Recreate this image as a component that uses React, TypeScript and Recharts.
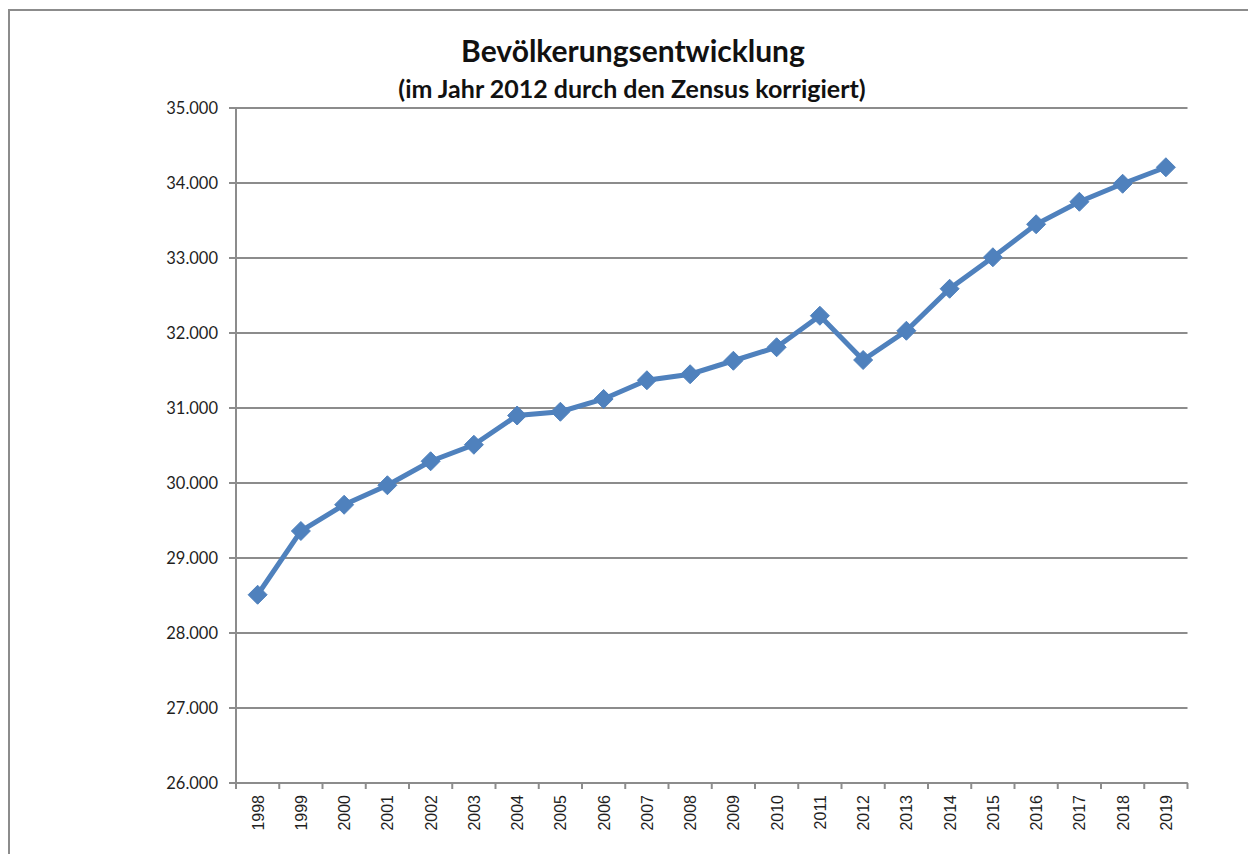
import React from 'react';
import { LineChart, Line, XAxis, YAxis, CartesianGrid } from 'recharts';

const years = [
  1998, 1999, 2000, 2001, 2002, 2003, 2004, 2005, 2006, 2007, 2008,
  2009, 2010, 2011, 2012, 2013, 2014, 2015, 2016, 2017, 2018, 2019,
];

const population = [
  28510, 29360, 29710, 29970, 30290, 30510, 30900, 30950, 31120, 31370, 31450,
  31630, 31810, 32230, 31640, 32030, 32590, 33010, 33450, 33750, 33990, 34210,
];

const yTicks = [26000, 27000, 28000, 29000, 30000, 31000, 32000, 33000, 34000, 35000];

// category boundaries for the tick marks (Excel style)
const xBoundaries = [...years.map((y) => y - 0.5), years[years.length - 1] + 0.5];

const data = years.map((year, i) => ({ year, value: population[i] }));

const W = 1256;
const H = 862;
const PLOT_LEFT = 236;
const PLOT_RIGHT = 1187.5;
const PLOT_TOP = 108;
const PLOT_BOTTOM = 783;
const BAND = (PLOT_RIGHT - PLOT_LEFT) / years.length;

const BLUE = '#4F81BD';
const GRID = '#8c8c8c';

const fmt = (v: number) => String(v).replace(/\B(?=(\d{3})+(?!\d))/g, '.');

const YearTick = (props: any) => {
  const { x, y, payload, index } = props;
  if (index >= years.length) return null;
  const label = Math.round(payload.value + 0.5);
  const tx = x + BAND / 2 + 6;
  const ty = y + 4;
  return (
    <text
      x={tx}
      y={ty}
      transform={`rotate(-90, ${tx}, ${ty})`}
      textAnchor="end"
      fontFamily="'Liberation Sans', Arial, sans-serif"
      fontSize={16}
      fill="#1f1f1f"
    >
      {label}
    </text>
  );
};

const Diamond = (props: any) => {
  const { cx, cy } = props;
  if (cx == null || cy == null) return null;
  const r = 9.5;
  return (
    <polygon
      points={`${cx},${cy - r} ${cx + r},${cy} ${cx},${cy + r} ${cx - r},${cy}`}
      fill={BLUE}
      stroke={BLUE}
      strokeWidth={1}
    />
  );
};

const App: React.FC = () => {
  return (
    <div style={{ position: 'relative', width: 1240, height: 846 }}>
      {/* outer chart frame */}
      <div
        style={{
          position: 'absolute',
          left: 0,
          top: 1,
          width: 1247,
          height: 853,
          boxSizing: 'border-box',
          borderTop: `2px solid ${GRID}`,
          borderLeft: `2px solid ${GRID}`,
          borderRight: `2px solid ${GRID}`,
          background: '#fff',
        }}
      />
      <div style={{ position: 'absolute', left: -8, top: -8, width: W, height: H }}>
        <LineChart
          width={W}
          height={H}
          data={data}
          margin={{ top: PLOT_TOP, right: W - PLOT_RIGHT, left: PLOT_LEFT - 80, bottom: H - PLOT_BOTTOM - 60 }}
        >
          <CartesianGrid vertical={false} stroke={GRID} strokeWidth={2} />
          <XAxis
            dataKey="year"
            type="number"
            domain={[xBoundaries[0], xBoundaries[xBoundaries.length - 1]]}
            ticks={xBoundaries}
            interval={0}
            height={60}
            axisLine={{ stroke: GRID, strokeWidth: 2 }}
            tickLine={{ stroke: GRID, strokeWidth: 2 }}
            tickSize={6}
            tick={<YearTick />}
          />
          <YAxis
            type="number"
            domain={[26000, 35000]}
            ticks={yTicks}
            interval={0}
            width={80}
            axisLine={{ stroke: GRID, strokeWidth: 2 }}
            tickLine={{ stroke: GRID, strokeWidth: 2 }}
            tickSize={7}
            tickMargin={11}
            tickFormatter={fmt}
            tick={{ fontFamily: 'Lato, sans-serif', fontSize: 16.5, fill: '#1f1f1f' }}
          />
          <Line
            type="linear"
            dataKey="value"
            stroke={BLUE}
            strokeWidth={5}
            dot={<Diamond />}
            activeDot={false}
            isAnimationActive={false}
          />
        </LineChart>
      </div>
      <div
        style={{
          position: 'absolute',
          left: -8,
          top: 27,
          width: W,
          textAlign: 'center',
          fontFamily: 'Lato, sans-serif',
          fontWeight: 700,
          color: '#111',
          lineHeight: 1,
        }}
      >
        <div style={{ fontSize: 30, paddingLeft: 10 }}>Bevölkerungsentwicklung</div>
        <div style={{ fontSize: 25, marginTop: 11, paddingLeft: 8 }}>
          (im Jahr 2012 durch den Zensus korrigiert)
        </div>
      </div>
    </div>
  );
};

export default App;
